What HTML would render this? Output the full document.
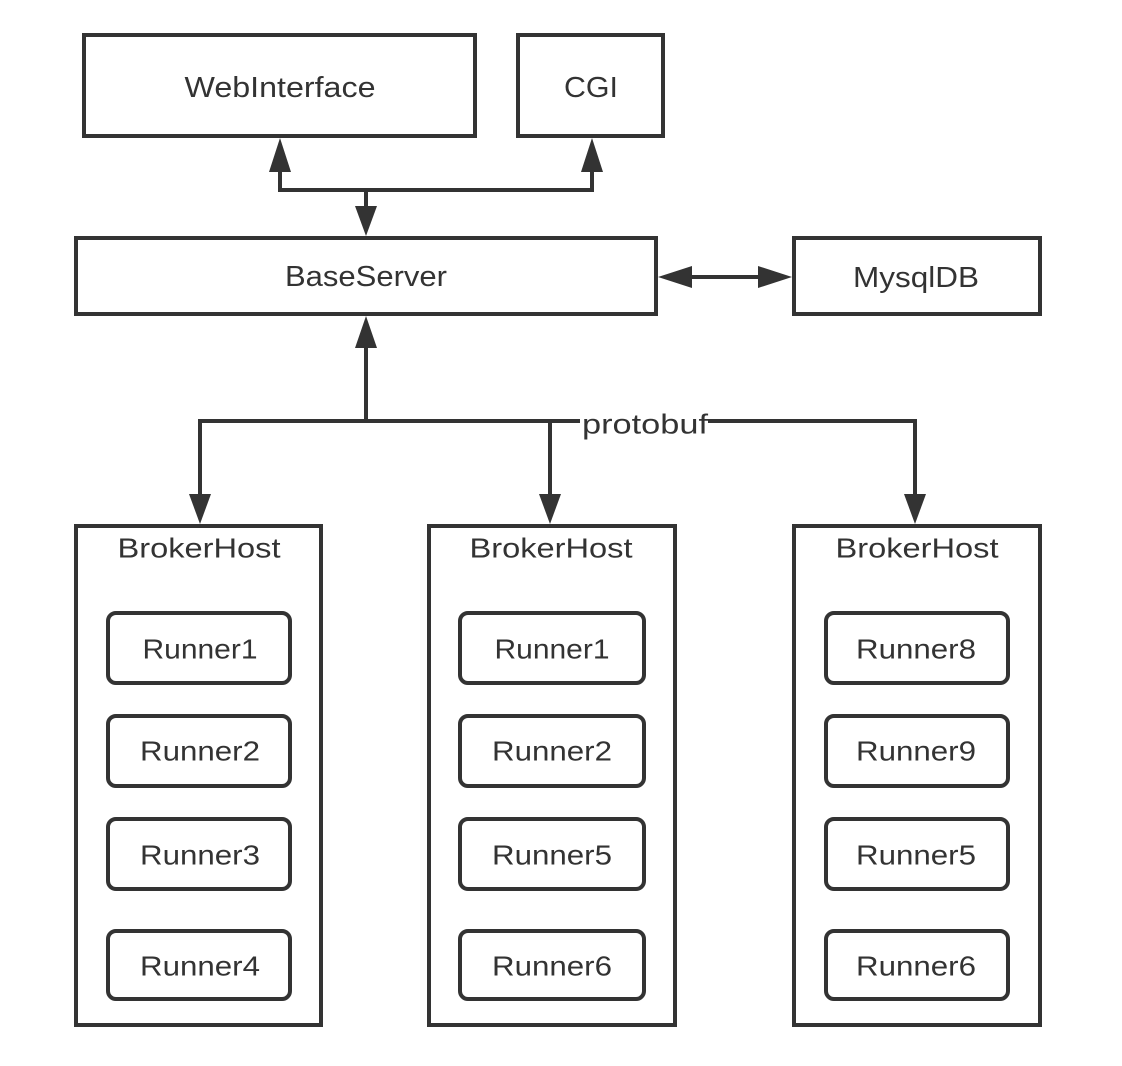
<!DOCTYPE html>
<html><head><meta charset="utf-8"><style>
html,body{margin:0;padding:0;background:#fff;}
svg{display:block;}
text{font-family:"Liberation Sans","DejaVu Sans",sans-serif;fill:#333;text-anchor:middle;dominant-baseline:central;}
</style></head><body>
<svg width="1122" height="1066" viewBox="0 0 1122 1066" xmlns="http://www.w3.org/2000/svg">
<g fill="none" stroke="#333" stroke-width="4">
<rect x="84" y="35" width="391" height="101"/>
<rect x="518" y="35" width="145" height="101"/>
<rect x="76" y="238" width="580" height="76"/>
<rect x="794" y="238" width="246" height="76"/>
<rect x="76" y="526" width="245" height="499"/>
<rect x="429" y="526" width="246" height="499"/>
<rect x="794" y="526" width="246" height="499"/>
<g>
<rect x="108" y="613" width="182" height="70" rx="8"/>
<rect x="108" y="716" width="182" height="70" rx="8"/>
<rect x="108" y="819" width="182" height="70" rx="8"/>
<rect x="108" y="931" width="182" height="68" rx="8"/>
<rect x="460" y="613" width="184" height="70" rx="8"/>
<rect x="460" y="716" width="184" height="70" rx="8"/>
<rect x="460" y="819" width="184" height="70" rx="8"/>
<rect x="460" y="931" width="184" height="68" rx="8"/>
<rect x="826" y="613" width="182" height="70" rx="8"/>
<rect x="826" y="716" width="182" height="70" rx="8"/>
<rect x="826" y="819" width="182" height="70" rx="8"/>
<rect x="826" y="931" width="182" height="68" rx="8"/>
</g>
<polyline points="280,170 280,190 592,190 592,170"/>
<line x1="366" y1="190" x2="366" y2="210"/>
<line x1="688" y1="277" x2="762" y2="277"/>
<line x1="366" y1="345" x2="366" y2="421"/>
<polyline points="200,498 200,421 915,421 915,498"/>
<line x1="550" y1="421" x2="550" y2="498"/>
</g>
<g fill="#333">
<polygon points="280,138 269,172 291,172"/>
<polygon points="592,138 581,172 603,172"/>
<polygon points="366,236 355,206 377,206"/>
<polygon points="658,277 692,266 692,288"/>
<polygon points="792,277 758,266 758,288"/>
<polygon points="366,316 355,348 377,348"/>
<polygon points="200,524 189,494 211,494"/>
<polygon points="550,524 539,494 561,494"/>
<polygon points="915,524 904,494 926,494"/>
</g>
<rect x="580" y="408" width="128" height="30" fill="#fff"/>
<text x="645" y="424" font-size="28" textLength="126" lengthAdjust="spacingAndGlyphs">protobuf</text>
<g font-size="29">
<text x="280" y="88" textLength="191" lengthAdjust="spacingAndGlyphs">WebInterface</text>
<text x="591" y="88" textLength="54" lengthAdjust="spacingAndGlyphs">CGI</text>
<text x="366" y="277" textLength="162" lengthAdjust="spacingAndGlyphs">BaseServer</text>
<text x="916" y="278" textLength="126" lengthAdjust="spacingAndGlyphs">MysqlDB</text>
</g>
<g font-size="28" lengthAdjust="spacingAndGlyphs">
<text x="199" y="548" textLength="163" lengthAdjust="spacingAndGlyphs">BrokerHost</text>
<text x="551" y="548" textLength="163" lengthAdjust="spacingAndGlyphs">BrokerHost</text>
<text x="917" y="548" textLength="163" lengthAdjust="spacingAndGlyphs">BrokerHost</text>
<text x="200" y="649" textLength="115" lengthAdjust="spacingAndGlyphs">Runner1</text>
<text x="200" y="751" textLength="120" lengthAdjust="spacingAndGlyphs">Runner2</text>
<text x="200" y="855" textLength="120" lengthAdjust="spacingAndGlyphs">Runner3</text>
<text x="200" y="966" textLength="120" lengthAdjust="spacingAndGlyphs">Runner4</text>
<text x="552" y="649" textLength="115" lengthAdjust="spacingAndGlyphs">Runner1</text>
<text x="552" y="751" textLength="120" lengthAdjust="spacingAndGlyphs">Runner2</text>
<text x="552" y="855" textLength="120" lengthAdjust="spacingAndGlyphs">Runner5</text>
<text x="552" y="966" textLength="120" lengthAdjust="spacingAndGlyphs">Runner6</text>
<text x="916" y="649" textLength="120" lengthAdjust="spacingAndGlyphs">Runner8</text>
<text x="916" y="751" textLength="120" lengthAdjust="spacingAndGlyphs">Runner9</text>
<text x="916" y="855" textLength="120" lengthAdjust="spacingAndGlyphs">Runner5</text>
<text x="916" y="966" textLength="120" lengthAdjust="spacingAndGlyphs">Runner6</text>
</g>
</svg>
</body></html>
